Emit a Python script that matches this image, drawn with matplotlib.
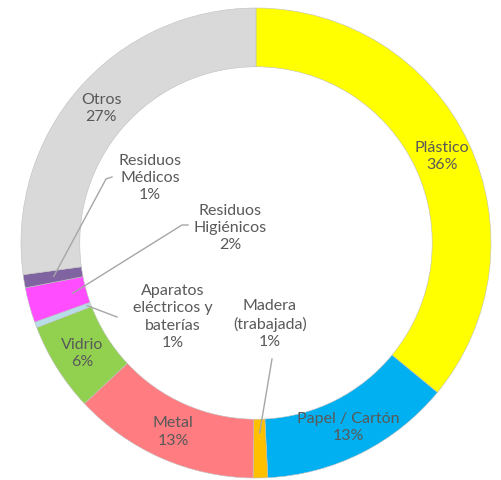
import numpy as np
import matplotlib
matplotlib.use("Agg")
import matplotlib.pyplot as plt

plt.rcParams['font.family'] = ['Lato', 'DejaVu Sans']

# porcentajes estimados del dibujo (las etiquetas muestran el valor redondeado)
categorias = ['Plástico', 'Papel / Cartón', 'Madera\n(trabajada)', 'Metal', 'Vidrio',
              'Aparatos\neléctricos y\nbaterías', 'Residuos\nHigiénicos',
              'Residuos\nMédicos', 'Otros']
valores = [35.9, 13.2, 1.0, 12.8, 6.1, 0.4, 2.4, 0.9, 27.1]
etiquetas_pct = ['36%', '13%', '1%', '13%', '6%', '1%', '2%', '1%', '27%']
colores = ['#FFFF00', '#00B0F0', '#FFC000', '#FF7C80', '#92D050',
           '#B7DEE8', '#FF4DFF', '#8064A2', '#D9D9D9']

# etiquetas dentro del anillo o en el hueco (posiciones en píxeles desde arriba)
dentro = [True, True, False, True, True, False, False, False, True]
pos_fuera = {2: (270, 324), 5: (173, 317), 6: (230, 228), 7: (150, 178)}
codo_fuera = {2: [(272, 360)], 5: [(117, 318)], 6: [(182, 226), (188, 226)],
              7: [(106, 180), (112, 178)]}
r_inicio = {2: 190, 5: 180, 6: 190, 7: 205}

W, H = 501, 481
cx, cy = 256, H - 244
R = 235
ancho = 0.25
color_txt = '#595959'

fig = plt.figure(figsize=(W / 100, H / 100), dpi=100)
ax = fig.add_axes([0, 0, 1, 1])

wedges, _ = ax.pie(valores, colors=colores, startangle=90, counterclock=False,
                   center=(cx, cy), radius=R,
                   wedgeprops=dict(width=R * ancho, edgecolor='#BFBFBF', linewidth=0.4))

ax.set_xlim(0, W)
ax.set_ylim(0, H)
ax.set_aspect('equal')
ax.axis('off')

r_medio = R * (1 - ancho / 2)
for i, w in enumerate(wedges):
    th = np.deg2rad((w.theta1 + w.theta2) / 2)
    texto = categorias[i] + '\n' + etiquetas_pct[i]
    if dentro[i]:
        x = cx + r_medio * np.cos(th)
        y = cy + r_medio * np.sin(th)
        ax.text(x, y, texto, ha='center', va='center', color=color_txt,
                fontsize=11.5, linespacing=1.3)
    else:
        tx, ty = pos_fuera[i]
        ax.text(tx, H - ty, texto, ha='center', va='center', color=color_txt,
                fontsize=11.5, linespacing=1.3)
        x0 = cx + r_inicio[i] * np.cos(th)
        y0 = cy + r_inicio[i] * np.sin(th)
        pts = [(x0, y0)] + [(px, H - py) for px, py in codo_fuera[i]]
        ax.plot([p[0] for p in pts], [p[1] for p in pts], color='#A6A6A6', lw=1)

fig.savefig('out.png', dpi=100)
